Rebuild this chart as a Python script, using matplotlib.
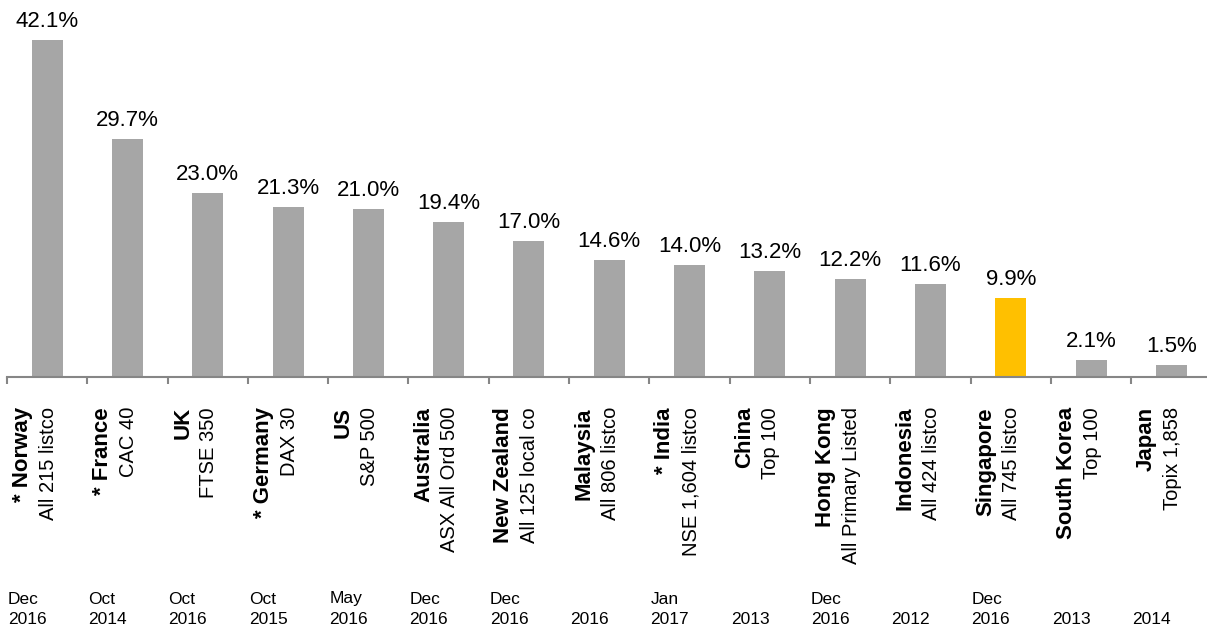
import matplotlib
matplotlib.use("Agg")
import matplotlib.pyplot as plt

plt.rcParams['font.family'] = ['Liberation Sans', 'DejaVu Sans']

countries = ["* Norway", "* France", "UK", "* Germany", "US", "Australia", "New Zealand",
             "Malaysia", "* India", "China", "Hong Kong", "Indonesia", "Singapore",
             "South Korea", "Japan"]
subtitles = ["All 215 listco", "CAC 40", "FTSE 350", "DAX 30", "S&P 500", "ASX All Ord 500",
             "All 125 local co", "All 806 listco", "NSE 1,604 listco", "Top 100",
             "All Primary Listed", "All 424 listco", "All 745 listco", "Top 100", "Topix 1,858"]
values = [42.1, 29.7, 23.0, 21.3, 21.0, 19.4, 17.0, 14.6, 14.0, 13.2, 12.2, 11.6, 9.9, 2.1, 1.5]
months = ["Dec", "Oct", "Oct", "Oct", "May", "Dec", "Dec", "", "Jan", "", "Dec", "", "Dec", "", ""]
years = ["2016", "2014", "2016", "2015", "2016", "2016", "2016", "2016", "2017", "2013",
         "2016", "2012", "2016", "2013", "2014"]
highlight = "Singapore"

W, H, DPI = 1207, 631, 100
fig = plt.figure(figsize=(W / DPI, H / DPI), dpi=DPI)
axis_y = 377
n = len(values)
catw = 80.3
x0 = 7
ax = fig.add_axes([x0 / W, (H - axis_y) / H, n * catw / W, axis_y / H])

xs = list(range(n))
colors = ["#FFC000" if c == highlight else "#A6A6A6" for c in countries]
ax.bar(xs, values, width=0.386, color=colors, zorder=2)
ax.set_xlim(-0.5, n - 0.5)
ax.set_ylim(0, 47.1)

for s in ["top", "right", "left"]:
    ax.spines[s].set_visible(False)
ax.spines["bottom"].set_color("#868686")
ax.spines["bottom"].set_linewidth(1.5)
ax.set_yticks([])
ax.set_xticks([i - 0.5 for i in range(n + 1)])
ax.set_xticklabels([])
ax.tick_params(axis="x", length=5, width=1.5, color="#868686", direction="out")

for i, v in enumerate(values):
    ax.annotate(f"{v:.1f}%", xy=(i, v), xytext=(0, 8), textcoords="offset pixels",
                ha="center", va="bottom", fontsize=16, color="black")

trans = ("data", "axes fraction")
for i in range(n):
    ax.annotate(countries[i], xy=(i, 0), xycoords=trans, xytext=(-25, -30),
                textcoords="offset pixels", rotation=90, ha="center", va="top",
                fontsize=16, fontweight="bold", annotation_clip=False)
    ax.annotate(subtitles[i], xy=(i, 0), xycoords=trans, xytext=(1, -30),
                textcoords="offset pixels", rotation=90, ha="center", va="top",
                fontsize=14.5, annotation_clip=False)
    if months[i]:
        ax.annotate(months[i], xy=(i - 0.5, 0), xycoords=trans, xytext=(1, -222),
                    textcoords="offset pixels", ha="left", va="center",
                    fontsize=12.5, annotation_clip=False)
    ax.annotate(years[i], xy=(i - 0.5, 0), xycoords=trans, xytext=(1, -243),
                textcoords="offset pixels", ha="left", va="center",
                fontsize=12.5, annotation_clip=False)

fig.savefig("out.png", dpi=DPI)
